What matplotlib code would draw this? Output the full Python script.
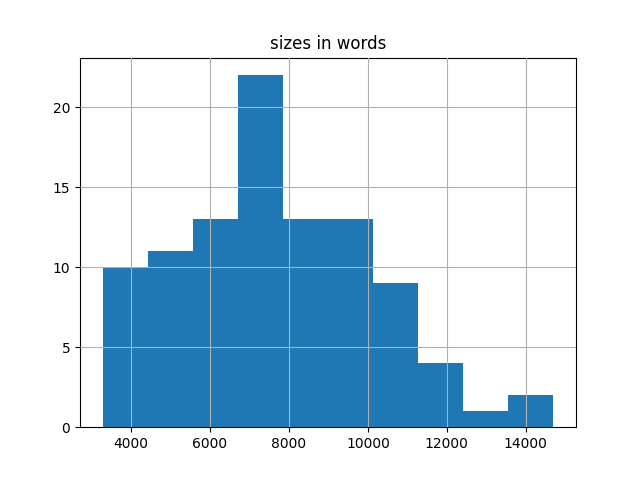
import numpy as np
import matplotlib
matplotlib.use('Agg')
import matplotlib.pyplot as plt

# histogram counts
counts = [10, 11, 13, 22, 13, 13, 9, 4, 1, 2]
size_min = 3280
size_max = 14700

edges = np.linspace(size_min, size_max, len(counts) + 1)

fig, ax = plt.subplots(figsize=(6.4, 4.8), dpi=100)
ax.hist(edges[:-1], bins=edges, weights=counts, color='#1f77b4')
ax.grid(True)
ax.set_axisbelow(False)
ax.set_title('sizes in words')

fig.savefig('out.png')
